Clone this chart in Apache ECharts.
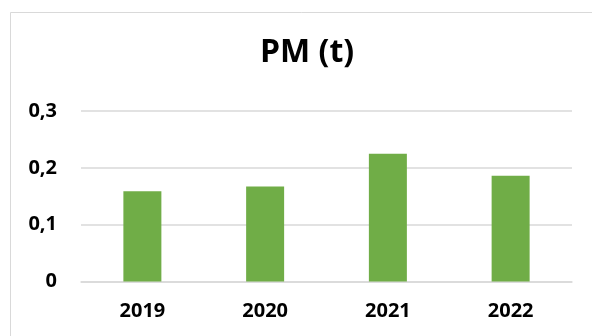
<!DOCTYPE html>
<html><head><meta charset="utf-8">
<script src="https://cdn.jsdelivr.net/npm/echarts@6/dist/echarts.min.js"></script>
<style>html,body{margin:0;padding:0;background:#fff}#c{width:592px;height:336px}</style>
</head><body><div id="c"></div>
<script>
const categories = ['2019', '2020', '2021', '2022'];
const pmValues = [0.159, 0.167, 0.225, 0.186];
const yTicks = [0, 0.1, 0.2, 0.3];
const titleText = 'PM (t)';

const chart = echarts.init(document.getElementById('c'), null, {renderer: 'canvas'});
const font = '"Open Sans", "Liberation Sans", sans-serif';
chart.setOption({
  animation: false,
  backgroundColor: '#fff',
  graphic: [{
    type: 'rect', shape: {x: 10.5, y: 12.5, width: 700, height: 500},
    style: {fill: 'none', stroke: '#d9d9d9', lineWidth: 1}
  }],
  title: {
    text: titleText, left: 255, top: 32,
    textStyle: {fontFamily: font, fontWeight: 'bold', fontSize: 32, color: '#000'}
  },
  grid: {left: 81, right: 20, top: 111, bottom: 54.5, containLabel: false},
  xAxis: {
    type: 'category', data: categories,
    axisLine: {show: true, lineStyle: {color: '#d9d9d9', width: 1.5}},
    axisTick: {show: false},
    axisLabel: {fontFamily: font, fontWeight: 'bold', fontSize: 20, color: '#000', margin: 20}
  },
  yAxis: {
    type: 'value', min: yTicks[0], max: yTicks[yTicks.length - 1], interval: 0.1,
    axisLine: {show: false}, axisTick: {show: false},
    splitLine: {lineStyle: {color: '#d9d9d9', width: 1.5}},
    axisLabel: {
      fontFamily: font, fontWeight: 'bold', fontSize: 20, color: '#000', margin: 24,
      formatter: v => String(Math.round(v * 10) / 10).replace('.', ',')
    }
  },
  series: [{
    type: 'bar', data: pmValues, barWidth: 38,
    itemStyle: {color: '#70ad47'}
  }]
});
</script></body></html>
